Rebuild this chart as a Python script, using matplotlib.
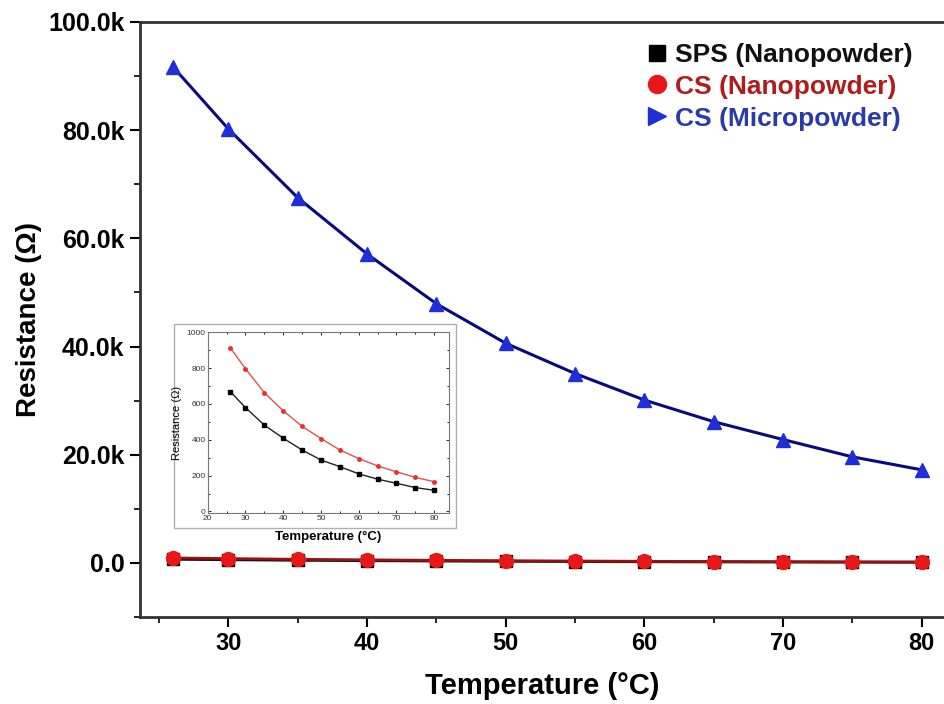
import matplotlib
matplotlib.use("Agg")
import matplotlib.pyplot as plt
from matplotlib.lines import Line2D
from matplotlib.patches import Rectangle
from matplotlib.ticker import MultipleLocator, FuncFormatter

plt.rcParams['font.family'] = ['Liberation Sans', 'DejaVu Sans']

temperature = [26, 30, 35, 40, 45, 50, 55, 60, 65, 70, 75, 80]
sps_nano = [668, 580, 482, 409, 343, 287, 250, 210, 180, 157, 133, 118]
cs_nano = [913, 797, 663, 562, 475, 407, 343, 295, 254, 221, 190, 166]
cs_micro = [91700, 80200, 67500, 57100, 47900, 40600, 35000, 30100, 26100, 22800, 19600, 17200]

labels = ["SPS (Nanopowder)", "CS (Nanopowder)", "CS (Micropowder)"]

fig = plt.figure(figsize=(9.44, 7.04), dpi=100)
ax = fig.add_axes([0.148, 0.1236, 0.852, 0.8452])

ax.plot(temperature, cs_micro, color='#0a0a80', lw=2.2, marker='^', ms=10,
        mfc='#1f2fd8', mec='#1f2fd8', zorder=3)
ax.plot(temperature, sps_nano, color='#111111', lw=2, marker='s', ms=9,
        mfc='black', mec='black', zorder=3)
ax.plot(temperature, cs_nano, color='#9a1010', lw=2, marker='o', ms=10,
        mfc='#e81818', mec='#e81818', zorder=4)

ax.set_xlim(23.6, 81.6)
ax.set_ylim(-10000, 100000)
ax.xaxis.set_major_locator(MultipleLocator(10))
ax.xaxis.set_minor_locator(MultipleLocator(5))
ax.yaxis.set_major_locator(MultipleLocator(20000))
ax.yaxis.set_minor_locator(MultipleLocator(10000))
ax.yaxis.set_major_formatter(FuncFormatter(lambda v, p: "0.0" if v == 0 else f"{v/1000:.1f}k"))
ax.xaxis.set_major_formatter(FuncFormatter(lambda v, p: f"{v:.0f}"))
for s in ['left', 'bottom', 'top']:
    ax.spines[s].set_linewidth(2)
    ax.spines[s].set_color('#333333')
ax.spines['right'].set_visible(False)
ax.tick_params(which='major', direction='out', length=7, width=1.5, labelsize=17, pad=4)
ax.tick_params(axis='y', which='major', labelsize=18)
ax.tick_params(which='minor', direction='out', length=4, width=1.2)
for t in ax.get_xticklabels() + ax.get_yticklabels():
    t.set_fontweight('bold')
ax.set_xlabel("Temperature (°C)", fontsize=21, fontweight='bold', labelpad=12)
ax.set_ylabel("Resistance (Ω)", fontsize=20, fontweight='bold', labelpad=4)

handles = [
    Line2D([], [], ls='none', marker='s', ms=12, mfc='black', mec='black'),
    Line2D([], [], ls='none', marker='o', ms=13, mfc='#e81818', mec='#e81818'),
    Line2D([], [], ls='none', marker='>', ms=13, mfc='#1f2fd8', mec='#1f2fd8'),
]
leg = ax.legend(handles, labels, loc='upper right', bbox_to_anchor=(0.99, 1.005),
                frameon=False, handlelength=0.8, handletextpad=0.25, labelspacing=0.3,
                prop={'size': 19, 'weight': 'bold'})
for txt, c in zip(leg.get_texts(), ['#111111', '#b01c1c', '#2a3aa8']):
    txt.set_color(c)

# inset outer frame
frame = Rectangle((0.1843, 0.25), 0.2987, 0.2898, transform=fig.transFigure,
                  facecolor='white', edgecolor='#b0b0b0', lw=1, zorder=1)
fig.patches.append(frame)

# inset
ins = fig.add_axes([0.220, 0.271, 0.256, 0.257])
ins.set_zorder(2)
ins.plot(temperature, cs_nano, color='#e05050', lw=1, marker='o', ms=2.5,
         mfc='#e83030', mec='#e83030')
ins.plot(temperature, sps_nano, color='#222222', lw=1, marker='s', ms=2.5,
         mfc='black', mec='black')
ins.set_xlim(20, 84)
ins.set_ylim(-10, 1000)
ins.xaxis.set_major_locator(MultipleLocator(10))
ins.xaxis.set_minor_locator(MultipleLocator(5))
ins.yaxis.set_major_locator(MultipleLocator(200))
ins.yaxis.set_minor_locator(MultipleLocator(100))
for s in ins.spines.values():
    s.set_color('#777777')
    s.set_linewidth(0.8)
ins.tick_params(which='both', direction='in', top=True, right=True, labelsize=6,
                length=2, width=0.6, pad=1.5, labelcolor='#333333')
ins.tick_params(which='minor', length=1.2)
ins.set_xlabel("Temperature (°C)", fontsize=9.5, fontweight='bold', labelpad=6)
ins.set_ylabel("Resistance (Ω)", fontsize=8, labelpad=3)

fig.savefig("out.png", dpi=100)
